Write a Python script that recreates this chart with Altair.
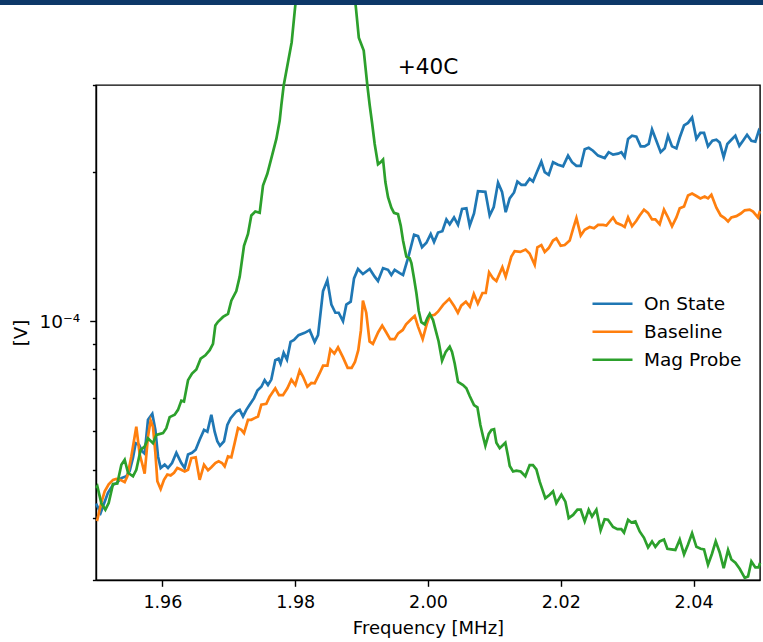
import altair as alt
import pandas as pd

# ---------------- data (frequency in kHz, voltage in units of 1e-5 V) ----------------
series_names = ["On State", "Baseline", "Mag Probe"]
series_colors = ["#1f77b4", "#ff7f0e", "#2ca02c"]

on_khz = [
    1950.0, 1950.7, 1951.8, 1952.56, 1953.06, 1953.82, 1954.57, 1955.07, 1955.57, 1955.97,
    1956.48, 1956.93, 1957.33, 1957.83, 1958.48, 1958.94, 1959.34, 1959.74, 1960.34, 1960.84,
    1961.45, 1962.1, 1962.85, 1963.35, 1963.86, 1964.46, 1965.01, 1965.61, 1966.27, 1966.77,
    1967.37, 1967.87, 1968.27, 1968.67, 1969.28, 1969.78, 1970.28, 1971.13, 1971.64, 1972.14,
    1972.64, 1973.14, 1973.8, 1974.3, 1974.9, 1975.4, 1975.9, 1976.4, 1977.0, 1977.5,
    1977.8, 1978.26, 1978.76, 1979.3, 1979.82, 1980.5, 1981.43, 1982.18, 1982.93, 1983.44,
    1984.19, 1984.84, 1985.45, 1986.05, 1986.55, 1987.2, 1987.7, 1988.36, 1988.86, 1989.46,
    1990.2, 1991.22, 1991.97, 1992.47, 1993.23, 1993.98, 1994.48, 1994.98, 1995.74, 1996.24,
    1996.99, 1997.9, 1998.5, 1999.1, 1999.76, 2000.41, 2000.91, 2001.51, 2002.16, 2002.77,
    2003.27, 2003.92, 2004.52, 2005.13, 2005.78, 2006.28, 2006.93, 2007.53, 2008.64, 2009.29,
    2009.9, 2010.55, 2011.15, 2011.7, 2012.3, 2012.96, 2013.46, 2014.06, 2014.66, 2015.31,
    2015.81, 2016.47, 2017.07, 2017.58, 2018.18, 2018.83, 2019.58, 2020.34, 2021.09, 2021.69,
    2022.35, 2023.0, 2023.6, 2024.2, 2024.85, 2025.61, 2026.61, 2027.21, 2027.87, 2028.62,
    2029.12, 2029.62, 2030.13, 2030.73, 2031.38, 2032.03, 2032.63, 2033.24, 2033.74, 2034.39,
    2035.04, 2035.65, 2036.15, 2036.75, 2037.41, 2037.91, 2038.56, 2039.16, 2039.77, 2040.42,
    2041.02, 2041.57, 2042.17, 2042.83, 2043.43, 2043.93, 2044.53, 2045.08, 2045.69, 2046.29,
    2046.89, 2047.44, 2048.05, 2048.7, 2049.3, 2049.8, 2050.0,
]
on_v = [
    4.28, 4.1, 4.5, 4.67, 4.7, 4.82, 4.86, 4.98, 5.3, 5.67,
    5.63, 5.46, 5.4, 6.32, 6.5, 6.03, 5.33, 5.05, 5.13, 5.05,
    5.17, 5.42, 5.17, 5.05, 5.38, 5.42, 5.5, 5.76, 6.03, 5.98,
    6.47, 5.98, 5.72, 5.6, 5.72, 6.17, 6.37, 6.57, 6.62, 6.42,
    6.62, 6.78, 6.99, 7.24, 7.37, 7.6, 7.43, 7.62, 8.34, 8.4,
    8.21, 8.63, 8.36, 9.08, 9.16, 9.37, 9.47, 9.59, 9.08, 9.37,
    11.5, 12.1, 10.8, 10.4, 10.4, 10.0, 10.8, 10.95, 12.2, 12.75,
    12.45, 12.75, 12.3, 12.05, 12.8, 12.7, 12.4, 12.7, 12.5, 12.4,
    13.4, 14.95, 14.85, 14.1, 14.4, 15.0, 14.45, 15.1, 15.2, 16.05,
    15.7, 16.2, 15.65, 16.85, 16.9, 15.6, 16.5, 18.3, 18.25, 16.35,
    17.0, 19.05, 18.25, 16.6, 17.7, 18.2, 19.15, 18.85, 18.85, 19.4,
    19.15, 20.1, 21.0, 20.0, 19.75, 20.95, 20.7, 20.55, 21.6, 20.95,
    20.6, 20.6, 22.25, 22.4, 22.1, 21.6, 21.35, 21.95, 21.7, 21.8,
    21.95, 21.45, 23.35, 23.7, 23.6, 22.55, 22.55, 22.8, 24.4, 23.15,
    21.95, 22.35, 23.7, 22.55, 22.35, 23.5, 24.85, 25.15, 25.8, 23.35,
    24.0, 24.0, 22.55, 23.15, 23.25, 22.95, 21.45, 22.8, 23.25, 23.7,
    22.6, 23.15, 23.8, 23.15, 23.05, 24.2, 23.9,
]

base_khz = [
    1950.0, 1950.2, 1950.8, 1951.31, 1951.91, 1952.56, 1953.06, 1953.82, 1954.32, 1954.72,
    1955.32, 1956.07, 1956.58, 1956.93, 1957.33, 1957.83, 1958.23, 1958.58, 1958.94, 1959.24,
    1959.74, 1960.24, 1960.74, 1961.24, 1961.75, 1962.25, 1962.85, 1963.35, 1963.86, 1964.36,
    1965.01, 1965.61, 1966.27, 1966.87, 1967.37, 1967.97, 1968.47, 1968.98, 1969.38, 1969.88,
    1970.38, 1970.88, 1971.39, 1971.89, 1972.29, 1972.89, 1973.39, 1973.89, 1974.4, 1974.9,
    1975.65, 1976.15, 1977.0, 1977.56, 1978.16, 1978.82, 1979.42, 1980.02, 1980.67, 1981.17,
    1981.83, 1982.43, 1982.93, 1983.7, 1984.2, 1984.85, 1985.3, 1985.9, 1986.45, 1987.2,
    1987.9, 1988.5, 1989.0, 1989.5, 1989.9, 1990.2, 1990.7, 1991.2, 1991.7, 1992.5,
    1993.1, 1993.7, 1994.3, 1994.98, 1995.5, 1996.2, 1996.7, 1997.5, 1998.0, 1998.5,
    1999.2, 1999.8, 2000.25, 2001.0, 2001.5, 2002.3, 2003.2, 2003.9, 2004.5, 2005.0,
    2005.7, 2006.3, 2006.9, 2007.5, 2008.2, 2008.7, 2009.2, 2009.8, 2010.3, 2011.2,
    2011.7, 2012.55, 2013.05, 2013.9, 2014.7, 2015.3, 2016.07, 2016.47, 2017.07, 2017.58,
    2018.18, 2018.83, 2019.33, 2019.98, 2020.59, 2021.34, 2021.84, 2022.35, 2023.0, 2023.6,
    2024.35, 2025.0, 2025.61, 2026.36, 2026.86, 2027.87, 2028.37, 2029.12, 2029.62, 2030.13,
    2030.73, 2031.38, 2031.88, 2032.53, 2033.13, 2033.74, 2034.24, 2034.89, 2035.54, 2036.15,
    2036.75, 2037.41, 2037.91, 2038.56, 2039.16, 2039.77, 2040.42, 2041.02, 2041.67, 2042.17,
    2042.68, 2043.43, 2044.08, 2044.68, 2045.19, 2045.69, 2046.44, 2047.1, 2047.7, 2048.45,
    2048.95, 2049.7, 2050.0,
]
base_v = [
    3.98, 3.97, 4.3, 4.53, 4.68, 4.78, 4.8, 4.77, 4.73, 4.86,
    5.33, 6.12, 5.38, 5.17, 4.92, 5.85, 6.3, 6.12, 5.42, 4.75,
    4.58, 4.78, 4.9, 4.88, 4.94, 5.05, 5.01, 4.97, 5.01, 5.29,
    5.31, 4.78, 5.13, 5.0, 5.07, 5.17, 5.21, 5.17, 5.09, 5.33,
    5.31, 5.67, 6.08, 6.03, 5.94, 6.32, 6.32, 6.37, 6.42, 6.78,
    6.81, 7.04, 7.32, 7.09, 7.09, 7.32, 7.62, 7.43, 7.95, 7.73,
    7.37, 7.5, 7.49, 7.86, 8.13, 8.13, 8.77, 8.6, 8.85, 8.45,
    8.05, 8.05, 8.27, 8.74, 9.59, 11.0, 10.4, 9.1, 9.0, 9.5,
    9.8, 9.5, 9.2, 9.2, 9.45, 9.6, 9.85, 10.1, 10.25, 9.75,
    9.2, 9.85, 10.25, 10.3, 10.45, 10.8, 11.1, 10.75, 10.4, 10.75,
    10.95, 10.7, 11.35, 10.85, 11.4, 11.4, 12.55, 12.2, 12.05, 12.85,
    12.3, 13.5, 13.85, 13.8, 13.95, 13.7, 13.0, 14.1, 14.25, 13.8,
    14.05, 14.55, 14.7, 14.2, 14.25, 14.55, 15.35, 16.15, 14.9, 15.3,
    15.5, 15.4, 15.65, 15.65, 15.6, 16.2, 15.8, 15.65, 15.5, 16.2,
    15.55, 15.95, 16.35, 16.8, 16.55, 16.05, 16.05, 15.7, 16.8, 16.2,
    15.55, 16.2, 16.9, 17.05, 17.95, 18.1, 17.9, 17.7, 17.85, 17.7,
    18.0, 16.95, 16.35, 16.15, 15.9, 16.2, 16.3, 16.5, 16.75, 16.8,
    16.65, 16.2, 16.7,
]

mag_khz = [
    1950.0, 1950.2, 1950.8, 1951.41, 1951.91, 1952.56, 1953.21, 1953.82, 1954.32, 1954.82,
    1955.57, 1956.07, 1956.73, 1957.33, 1957.83, 1958.58, 1959.09, 1960.09, 1960.59, 1961.09,
    1961.85, 1962.35, 1962.85, 1963.25, 1963.86, 1964.46, 1965.11, 1965.76, 1966.47, 1967.12,
    1967.62, 1967.97, 1968.37, 1969.13, 1969.88, 1970.38, 1971.13, 1971.64, 1972.29, 1972.89,
    1973.39, 1973.99, 1974.65, 1975.15, 1975.8, 1976.51, 1977.16, 1977.66, 1977.91, 1978.26,
    1979.47, 1979.98, 1981.5, 1983.5, 1985.0, 1986.5, 1988.0, 1989.14, 1989.58, 1990.32,
    1990.87, 1991.22, 1991.57, 1991.97, 1992.47, 1992.87, 1993.23, 1993.58, 1993.98, 1994.48,
    1994.88, 1995.48, 1995.89, 1996.24, 1996.74, 1997.24, 1997.5, 1997.9, 1998.25, 1998.6,
    1999.0, 1999.5, 1999.9, 2000.26, 2000.76, 2001.1, 2001.6, 2002.12, 2002.67, 2003.27,
    2003.62, 2004.02, 2004.52, 2005.28, 2005.78, 2006.28, 2006.93, 2007.44, 2007.89, 2008.29,
    2008.64, 2009.15, 2009.55, 2009.95, 2010.3, 2010.8, 2011.3, 2011.65, 2012.06, 2012.31,
    2012.81, 2013.31, 2013.96, 2014.66, 2015.31, 2015.81, 2016.32, 2016.82, 2017.67, 2018.33,
    2018.83, 2019.33, 2020.09, 2020.69, 2021.19, 2021.85, 2022.5, 2023.0, 2023.6, 2024.2,
    2024.7, 2025.36, 2026.0, 2026.6, 2027.1, 2027.87, 2028.52, 2029.12, 2029.52, 2030.13,
    2030.63, 2031.23, 2031.88, 2032.53, 2033.14, 2033.74, 2034.24, 2034.89, 2035.54, 2036.05,
    2036.65, 2037.25, 2037.91, 2038.56, 2039.16, 2039.77, 2040.42, 2041.07, 2041.57, 2042.17,
    2042.77, 2043.33, 2043.93, 2044.53, 2045.19, 2045.69, 2046.29, 2046.94, 2047.7, 2048.2,
    2048.7, 2049.3, 2049.8, 2050.0,
]
mag_v = [
    4.6, 4.64, 4.29, 4.16, 4.29, 4.69, 4.7, 5.13, 5.25, 4.94,
    4.86, 5.01, 5.5, 5.58, 5.8, 5.67, 5.89, 5.94, 6.08, 6.4,
    6.47, 6.62, 6.91, 6.88, 7.6, 7.84, 7.99, 8.4, 8.53, 8.74,
    9.0, 9.8, 9.97, 10.2, 10.35, 11.0, 11.5, 12.3, 14.2, 15.0,
    16.35, 16.65, 16.55, 18.8, 19.85, 21.6, 23.35, 25.4, 27.3, 29.9,
    36.6, 43.0, 65.0, 95.0, 105.0, 90.0, 60.0, 43.0, 37.4, 35.2,
    29.9, 27.3, 25.2, 22.8, 20.75, 20.95, 21.2, 19.1, 17.8, 16.95,
    16.55, 16.45, 15.6, 14.55, 13.5, 13.4, 13.1, 12.2, 11.4, 10.5,
    9.95, 9.85, 10.15, 10.35, 10.05, 9.65, 9.1, 8.32, 8.67, 8.88,
    8.67, 8.21, 7.54, 7.43, 7.32, 7.06, 6.77, 6.7, 6.17, 5.85,
    5.6, 5.92, 6.03, 6.05, 5.68, 5.54, 5.62, 5.68, 5.33, 5.1,
    4.97, 4.99, 4.97, 4.86, 5.12, 5.12, 5.02, 4.74, 4.39, 4.46,
    4.53, 4.29, 4.46, 4.32, 4.0, 4.06, 4.16, 4.16, 3.94, 4.16,
    4.03, 4.16, 3.78, 3.98, 3.97, 3.84, 3.8, 3.8, 3.74, 3.97,
    3.92, 3.94, 3.76, 3.65, 3.49, 3.59, 3.5, 3.59, 3.62, 3.47,
    3.46, 3.45, 3.62, 3.38, 3.54, 3.73, 3.5, 3.47, 3.46, 3.22,
    3.39, 3.59, 3.41, 3.17, 3.45, 3.3, 3.25, 3.16, 3.03, 3.05,
    3.27, 3.18, 3.18, 3.25,
]

x_ticks = [1.96, 1.98, 2.00, 2.02, 2.04]
y_ticks = [3e-5, 4e-5, 5e-5, 6e-5, 7e-5, 8e-5, 9e-5, 1e-4, 2e-4, 3e-4]

# ---------------- table ----------------
rows = []
for name, fk, vv in zip(series_names, [on_khz, base_khz, mag_khz], [on_v, base_v, mag_v]):
    assert len(fk) == len(vv), name
    for f, v in zip(fk, vv):
        rows.append({"series": name, "freq": f / 1000.0, "volt": v * 1e-5})
df = pd.DataFrame(rows)

FONT = "DejaVu Sans"

lines = alt.Chart(df).mark_line(strokeWidth=2.7, clip=False).encode(
    x=alt.X(
        "freq:Q",
        scale=alt.Scale(domain=[1.95, 2.05], nice=False, zero=False),
        axis=alt.Axis(
            values=x_ticks, format=".2f", title="Frequency [MHz]",
            tickSize=6.3, labelPadding=7, titlePadding=9,
            labelFontSize=17.5, titleFontSize=18,
        ),
    ),
    y=alt.Y(
        "volt:Q",
        scale=alt.Scale(type="log", domain=[3e-5, 3e-4], nice=False),
        axis=alt.Axis(
            values=y_ticks,
            labelExpr="datum.value == 0.0001 ? '10\u207b\u2074' : ''",
            tickSize={"condition": {"test": "datum.value == 0.0001", "value": 6.3}, "value": 3.6},
            labelPadding=10, titlePadding=8, title="[V]",
            labelFontSize=18.5, titleFontSize=18,
        ),
    ),
    color=alt.Color(
        "series:N",
        scale=alt.Scale(domain=series_names, range=series_colors),
        legend=alt.Legend(
            title=None, orient="none", legendX=495, legendY=205,
            direction="vertical", symbolType="stroke", symbolSize=1600,
            symbolStrokeWidth=2.7, labelFontSize=18.5, labelFont=FONT,
            labelColor="black", labelOffset=10, rowPadding=0, padding=0,
            clipHeight=27.5, labelLimit=300,
        ),
    ),
)

title_df = pd.DataFrame({"t": ["+40C"]})
title_mark = alt.Chart(title_df).mark_text(
    font=FONT, fontSize=21.6, baseline="alphabetic", align="center", color="black"
).encode(text="t:N", x=alt.value(332), y=alt.value(-11))

band_df = pd.DataFrame({"b": [0]})
band = alt.Chart(band_df).mark_rect(color="#0d3868").encode(
    x=alt.value(-96), x2=alt.value(667), y=alt.value(-85), y2=alt.value(-80)
)

chart = alt.layer(lines, title_mark, band).properties(
    width=664, height=495,
    padding={"left": 96, "top": 85, "right": 3, "bottom": 62},
    autosize=alt.AutoSizeParams(type="none"),
    background="white",
).configure_view(
    stroke="black", strokeWidth=1.4
).configure_axis(
    grid=False, domainColor="black", domainWidth=1.4,
    tickColor="black", tickWidth=1.4,
    labelColor="black", titleColor="black",
    labelFont=FONT, titleFont=FONT, titleFontWeight="normal",
)

chart.save("out.html", embed_options={"renderer": "svg", "actions": False})
